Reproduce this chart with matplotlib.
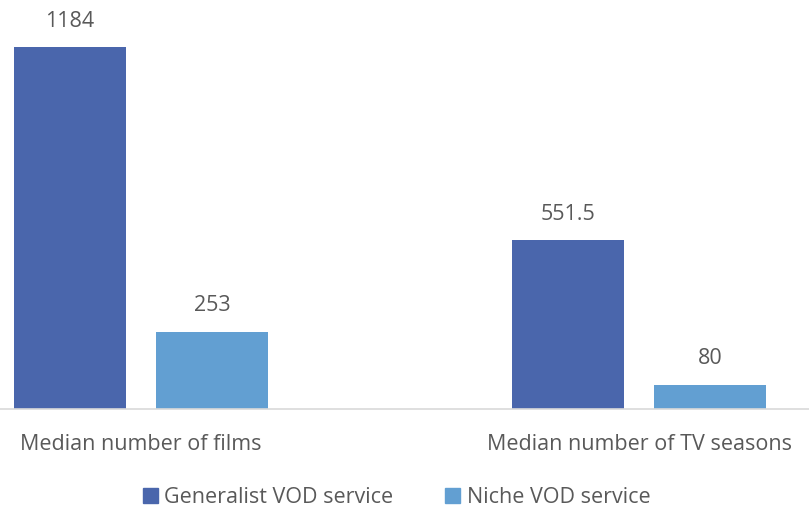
import numpy as np
import matplotlib.pyplot as plt
from matplotlib.patches import Patch

# Chart data
categories = ["Median number of films", "Median number of TV seasons"]
series_names = ["Generalist VOD service", "Niche VOD service"]
generalist = [1184, 551.5]
niche = [253, 80]

colors = ["#4A66AC", "#629FD2"]
text_color = "#595959"

plt.rcParams["font.family"] = ["Open Sans", "DejaVu Sans"]

fig = plt.figure(figsize=(8.09, 5.07), dpi=100)
ax = fig.add_axes([0, 0.1933, 1, 0.8067])

x_pos = np.arange(len(categories))
bar_width = 0.225
offset = 0.285

for i, values in enumerate([generalist, niche]):
    xs = x_pos + (i - 0.5) * offset
    ax.bar(xs, values, width=bar_width, color=colors[i], label=series_names[i])
    for x, v in zip(xs, values):
        label = f"{v:g}"
        ax.annotate(label, (x, v), xytext=(0, 11), textcoords="offset points",
                    ha="center", va="bottom", fontsize=15.5, color=text_color)

ax.set_xlim(-0.283, 1.341)
ax.set_ylim(0, 1338)

for spine in ["top", "right", "left"]:
    ax.spines[spine].set_visible(False)
ax.spines["bottom"].set_color("#D9D9D9")
ax.spines["bottom"].set_linewidth(1.2)

ax.set_yticks([])
ax.set_xticks(x_pos)
ax.set_xticklabels(categories, fontsize=15.5, color=text_color)
ax.tick_params(axis="x", length=0, pad=18)

handles = [Patch(color=c) for c in colors]
fig.legend(handles, series_names, loc="center", bbox_to_anchor=(0.49, 0.018),
           ncol=2, frameon=False, fontsize=15.5, labelcolor=text_color,
           handlelength=0.7, handleheight=0.7, handletextpad=0.3,
           columnspacing=2.4)

fig.savefig("out.png", dpi=100)
